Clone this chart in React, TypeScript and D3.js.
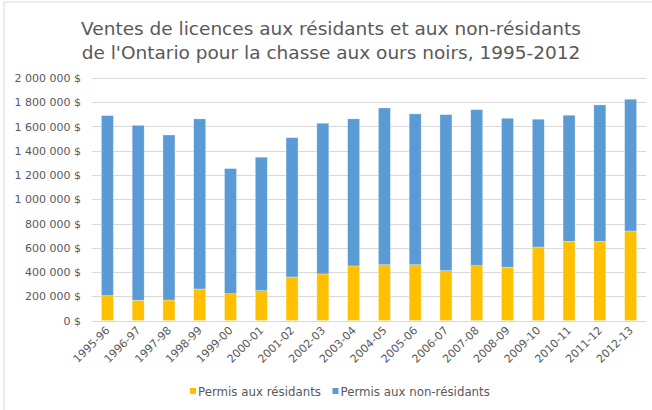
import React from "react";
import * as d3 from "d3";

const categories = ["1995-96","1996-97","1997-98","1998-99","1999-00","2000-01","2001-02","2002-03","2003-04","2004-05","2005-06","2006-07","2007-08","2008-09","2009-10","2010-11","2011-12","2012-13"];
const residents = [205000,167000,169000,260000,221000,246000,359000,384000,450000,460000,460000,411000,452000,439000,606000,653000,653000,738000];
const nonResidents = [1485000,1443000,1361000,1403000,1032000,1101000,1149000,1243000,1213000,1293000,1244000,1287000,1287000,1229000,1054000,1040000,1125000,1087000];
const yTicks = [0,200000,400000,600000,800000,1000000,1200000,1400000,1600000,1800000,2000000];
const seriesNames = ["Permis aux résidants","Permis aux non-résidants"];
const colors = ["#FFC000","#5B9BD5"];
const titleLines = ["Ventes de licences aux résidants et aux non-résidants","de l'Ontario pour la chasse aux ours noirs, 1995-2012"];

const W = 652, H = 410;
const M = { left: 92, right: 6, top: 78, bottom: 89.5 };
const FONT = "'DejaVu Sans', sans-serif";
const TXT = "#595959";

function fmt(v: number) {
  const s = String(v).replace(/\B(?=(\d{3})+(?!\d))/g, "\u00a0");
  return s + "\u00a0$";
}

export default function App() {
  const x = d3.scaleBand<string>().domain(categories).range([M.left, W - M.right]).paddingInner(0.61).paddingOuter(0.305);
  const y = d3.scaleLinear().domain([0, 2000000]).range([H - M.bottom, M.top]);
  const stack = d3.stack<any>().keys(["r", "n"])(categories.map((c, i) => ({ c, r: residents[i], n: nonResidents[i] })));
  const legendX = [190, 332.5];
  return (
    <svg width={W} height={H} style={{ position: "absolute", left: 0, top: 0, background: "#fff" }}>
      <rect x={4} y={2} width={W + 10} height={H + 10} fill="#fff" stroke="#d9d9d9" strokeWidth={1} />
      {titleLines.map((t, i) => (
        <text key={i} x={331} y={35 + i * 24} textAnchor="middle" fontFamily={FONT} fontSize={18.5} fill={TXT}>{t}</text>
      ))}
      {yTicks.map((t) => (
        <g key={t}>
          <line x1={M.left} x2={W - M.right} y1={Math.round(y(t)) + 0.5} y2={Math.round(y(t)) + 0.5} stroke="#d9d9d9" strokeWidth={1} />
          <text x={81} y={y(t) + 4} textAnchor="end" fontFamily={FONT} fontSize={11} fill={TXT}>{fmt(t)}</text>
        </g>
      ))}
      {stack.map((s, si) => (
        <g key={si}>
          {s.map((d, i) => (
            <rect key={i} x={x(categories[i])!} width={x.bandwidth()} y={y(d[1])} height={y(d[0]) - y(d[1])} fill={colors[si]} stroke="#ffffff" strokeOpacity={0.5} strokeWidth={0.6} />
          ))}
        </g>
      ))}
      {categories.map((c) => {
        const cx = x(c)! + x.bandwidth() / 2 + 3;
        const cy = 331;
        return (
          <text key={c} x={cx} y={cy} transform={`rotate(-45 ${cx} ${cy})`} textAnchor="end" fontFamily={FONT} fontSize={11} fill={TXT}>{c}</text>
        );
      })}
      {seriesNames.map((n, i) => {
        const lx = legendX[i];
        return (
          <g key={n}>
            <rect x={lx} y={388} width={6} height={6} fill={colors[i]} />
            <text x={lx + 8} y={395.5} fontFamily={FONT} fontSize={11.8} fill={TXT}>{n}</text>
          </g>
        );
      })}
    </svg>
  );
}
